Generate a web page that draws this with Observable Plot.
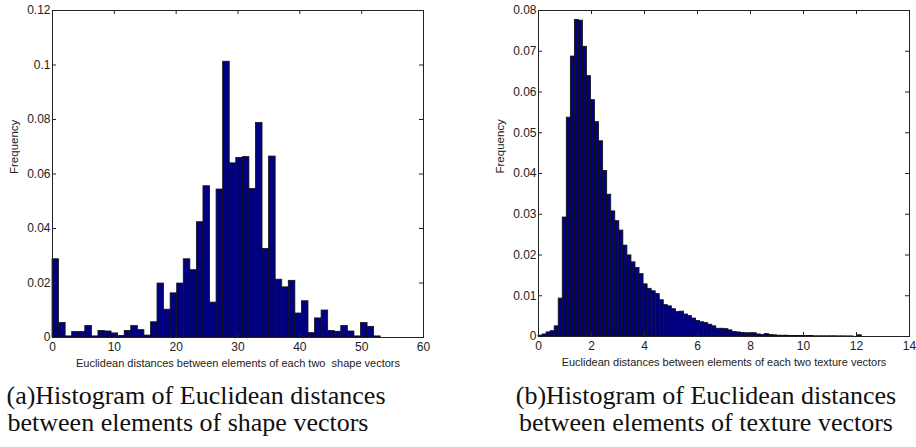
<!DOCTYPE html>
<html><head><meta charset="utf-8">
<script src="https://cdn.jsdelivr.net/npm/d3@7"></script>
<script src="https://cdn.jsdelivr.net/npm/@observablehq/plot@0.6"></script>
<style>
body{margin:0;background:#fff;}
#root{position:relative;width:916px;height:447px;overflow:hidden;background:#fff;}
.panel{position:absolute;top:0;}
.panel svg text{white-space:pre;}
.cap{position:absolute;width:600px;text-align:center;white-space:nowrap;font-family:"Liberation Serif",serif;font-size:26px;line-height:26px;color:#111;}
</style></head><body><div id="root"></div>
<script>
// ---- data ----
const shapeBinWidth = 1.0615;
const shapeFreq = [0.0287,0.0053,0.0004,0.0020,0.0020,0.0042,0.0004,0.0024,0.0022,0.0015,
  0.0006,0.0024,0.0042,0.0027,0.0007,0.0056,0.0198,0.0102,0.0162,0.0198,
  0.0287,0.0247,0.0423,0.0555,0.0128,0.0543,0.1012,0.0639,0.0659,0.0662,
  0.0545,0.0787,0.0325,0.0664,0.0212,0.0184,0.0208,0.0088,0.0133,0.0016,
  0.0070,0.0099,0.0024,0.0021,0.0042,0.0022,0.0004,0.0053,0.0039,0.0004];
const textureBinWidth = 0.1525;
const textureFreq = [0.0002,0.0005,0.0010,0.0013,0.0025,0.0093,0.0292,0.0537,0.0687,0.0777,
  0.0775,0.0711,0.0639,0.0580,0.0526,0.0479,0.0406,0.0348,0.0307,0.0283,
  0.0260,0.0223,0.0199,0.0182,0.0168,0.0153,0.0128,0.0117,0.0111,0.0104,
  0.0089,0.0077,0.0074,0.0067,0.0060,0.0061,0.0054,0.0050,0.0044,0.0038,
  0.0035,0.0033,0.0029,0.0025,0.0019,0.0019,0.0018,0.0015,0.0011,0.0010,
  0.0009,0.0008,0.0008,0.0008,0.0005,0.0004,0.0006,0.0004,0.0003,0.0002,
  0.0002,0.0002,0.0001,0.0001,0.0001,0.0001,0.0001,0.0001,0.00005,0.00005,
  0.00005,0.00005,0.00005,0.00005,0.00003,0.00003,0.00002,0.00002,0,0.0003];
const shapeXTicks = [0,10,20,30,40,50,60];
const shapeYTicks = [0,0.02,0.04,0.06,0.08,0.1,0.12];
const textureXTicks = [0,2,4,6,8,10,12,14];
const textureYTicks = [0,0.01,0.02,0.03,0.04,0.05,0.06,0.07,0.08];
const shapeXLabel = "Euclidean distances between elements of each two  shape vectors";
const textureXLabel = "Euclidean distances between elements of each two texture vectors";
const yLabel = "Frequency";
const captionA = ["(a)Histogram of Euclidean distances", "between elements of shape vectors"];
const captionB = ["(b)Histogram of Euclidean distances", "between elements of texture vectors"];

// ---- drawing ----
function panel({freq, binWidth, xTicks, yTicks, xLabel, left, width, height, mL, mR, mT, mB}) {
  const rows = freq.map((v, i) => ({x1: i * binWidth, x2: (i + 1) * binWidth, y: v}));
  const iw = width - mL - mR, ih = height - mT - mB, tk = 4;
  const fig = Plot.plot({
    width, height, marginLeft: mL, marginRight: mR, marginTop: mT, marginBottom: mB,
    style: {fontFamily: "'Liberation Sans', Arial, sans-serif", fontSize: "12px", color: "#222", background: "transparent"},
    x: {domain: [xTicks[0], xTicks[xTicks.length - 1]]},
    y: {domain: [yTicks[0], yTicks[yTicks.length - 1]]},
    marks: [
      Plot.rectY(rows, {x1: "x1", x2: "x2", y: "y", fill: "#000080", stroke: "#111", strokeWidth: 0.8}),
      Plot.tickY(yTicks, {y: d => d, insetRight: iw - tk, stroke: "#222"}),
      Plot.tickY(yTicks, {y: d => d, insetLeft: iw - tk, stroke: "#222"}),
      Plot.tickX(xTicks, {x: d => d, insetTop: ih - tk, stroke: "#222"}),
      Plot.tickX(xTicks, {x: d => d, insetBottom: ih - tk, stroke: "#222"}),
      Plot.frame({stroke: "#222"}),
      Plot.axisX({ticks: xTicks, tickSize: 0, tickPadding: 5, tickFormat: d => String(d), label: null}),
      Plot.axisY({ticks: yTicks, tickSize: 0, tickPadding: 2, tickFormat: d => String(d), label: null}),
      Plot.text([xLabel], {frameAnchor: "bottom", dy: 26, lineAnchor: "middle", fontSize: 11, text: d => d}),
      Plot.text([yLabel], {frameAnchor: "left", dx: -38, rotate: -90, lineAnchor: "middle", fontSize: 11.5, text: d => d})
    ]
  });
  const wrap = document.createElement("div");
  wrap.className = "panel";
  wrap.style.left = left + "px";
  wrap.appendChild(fig);
  document.getElementById("root").appendChild(wrap);
}

panel({freq: shapeFreq, binWidth: shapeBinWidth, xTicks: shapeXTicks, yTicks: shapeYTicks,
  xLabel: shapeXLabel, left: 0, width: 458, height: 372, mL: 52, mR: 35, mT: 10, mB: 35});
panel({freq: textureFreq, binWidth: textureBinWidth, xTicks: textureXTicks, yTicks: textureYTicks,
  xLabel: textureXLabel, left: 458, width: 458, height: 372, mL: 80, mR: 7, mT: 10, mB: 36});

function caption(text, cx, baseline) {
  const d = document.createElement("div");
  d.className = "cap";
  d.textContent = text;
  d.style.left = (cx - 300) + "px";
  d.style.top = (baseline - 22) + "px";
  document.getElementById("root").appendChild(d);
}
caption(captionA[0], 196, 405);
caption(captionA[1], 188, 432);
caption(captionB[0], 706, 405);
caption(captionB[1], 706, 432);
</script></body></html>
